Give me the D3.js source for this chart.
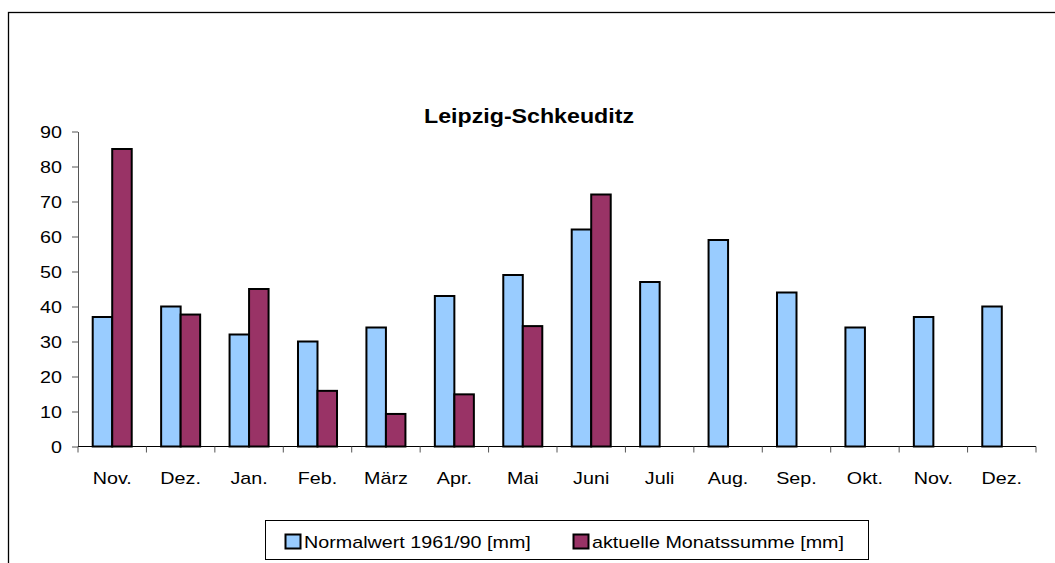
<!DOCTYPE html>
<html>
<head>
<meta charset="utf-8">
<script src="https://cdn.jsdelivr.net/npm/d3@7"></script>
<style>
  body { margin: 0; background: #fff; }
  svg { display: block; font-family: Arial, "Liberation Sans", sans-serif; }
</style>
</head>
<body>
<svg width="1055" height="563"></svg>
<script>
// months shown on the x axis
const months = ["Nov.", "Dez.", "Jan.", "Feb.", "März", "Apr.", "Mai", "Juni", "Juli", "Aug.", "Sep.", "Okt.", "Nov.", "Dez."];
// long-term normal 1961/90 [mm]
const normalwert = [37, 40, 32, 30, 34, 43, 49, 62, 47, 59, 44, 34, 37, 40];
// current monthly totals [mm] (null = not yet available)
const monatssumme = [85, 37.7, 45, 15.9, 9.3, 14.9, 34.4, 72, null, null, null, null, null, null];
const seriesNames = ["Normalwert 1961/90 [mm]", "aktuelle Monatssumme [mm]"];
const seriesColors = ["#99CCFF", "#993366"];
const yTicks = [0, 10, 20, 30, 40, 50, 60, 70, 80, 90];

const width = 1055, height = 563;
const margin = {left: 78, right: 19, top: 131.5, bottom: 116.5};
const stretch = 1.16; // the original chart is a bit wider than tall, text too

const svg = d3.select("svg");

// outer chart frame (runs past the right and bottom edge)
svg.append("rect")
    .attr("x", 8.5).attr("y", 12.5)
    .attr("width", 1100).attr("height", 600)
    .attr("fill", "none")
    .attr("stroke", "#000")
    .attr("stroke-width", 1.3);

const keys = months.map((m, i) => i);
const x = d3.scaleBand()
    .domain(keys)
    .range([margin.left, width - margin.right])
    .padding(0);

const xs = d3.scaleBand()
    .domain([0, 1])
    .range([0, x.bandwidth()])
    .paddingInner(0)
    .paddingOuter(0.754);

const y = d3.scaleLinear()
    .domain([0, 90])
    .range([height - margin.bottom, margin.top]);

function place(sel, px, py) {
    sel.attr("x", 0).attr("y", 0)
        .attr("transform", (d, i) => `translate(${typeof px === "function" ? px(d, i) : px},${typeof py === "function" ? py(d, i) : py}) scale(${stretch},1)`);
}

// title
svg.append("text")
    .attr("text-anchor", "middle")
    .style("font-size", "20px")
    .style("font-weight", "bold")
    .text("Leipzig-Schkeuditz")
    .call(place, 529, 122.5);

// bars
const rows = keys.map(i => [normalwert[i], monatssumme[i]]);
const group = svg.append("g")
    .selectAll("g")
    .data(rows)
    .join("g")
    .attr("transform", (d, i) => `translate(${x(i)},0)`);

group.selectAll("rect")
    .data(d => d.map((v, s) => ({v, s})).filter(e => e.v != null))
    .join("rect")
    .attr("x", d => xs(d.s))
    .attr("width", xs.bandwidth())
    .attr("y", d => y(d.v))
    .attr("height", d => y(0) - y(d.v))
    .attr("fill", d => seriesColors[d.s])
    .attr("stroke", "#000")
    .attr("stroke-width", 2);

// y axis
const yAxis = svg.append("g")
    .attr("transform", `translate(${margin.left},0)`)
    .call(d3.axisLeft(y).tickValues(yTicks).tickSize(6).tickSizeOuter(0));
yAxis.select(".domain").attr("stroke", "#555");
yAxis.selectAll(".tick line").attr("stroke", "#555");
yAxis.selectAll("text")
    .style("font-size", "17px")
    .attr("fill", "#000")
    .attr("dy", "0.36em")
    .call(place, -16, 0);

// x axis: ticks at category boundaries
const xAxisG = svg.append("g")
    .attr("transform", `translate(0,${y(0)})`);
xAxisG.append("line")
    .attr("x1", margin.left).attr("x2", width - margin.right)
    .attr("stroke", "#000").attr("stroke-width", 1.2);
xAxisG.selectAll("line.tk")
    .data(keys.concat([keys.length]))
    .join("line")
    .attr("class", "tk")
    .attr("x1", d => d < keys.length ? x(d) : x(keys.length - 1) + x.bandwidth())
    .attr("x2", d => d < keys.length ? x(d) : x(keys.length - 1) + x.bandwidth())
    .attr("y1", 0).attr("y2", 6)
    .attr("stroke", "#555");
xAxisG.selectAll("text")
    .data(keys)
    .join("text")
    .attr("text-anchor", "middle")
    .style("font-size", "17px")
    .text(d => months[d])
    .call(place, d => x(d) + x.bandwidth() / 2, 37);

// legend
const legend = svg.append("g");
legend.append("rect")
    .attr("x", 265.5).attr("y", 520.5)
    .attr("width", 603).attr("height", 39)
    .attr("fill", "#fff")
    .attr("stroke", "#000")
    .attr("stroke-width", 1);
const legendX = [285, 573];
const li = legend.selectAll("g.item")
    .data(seriesNames)
    .join("g")
    .attr("class", "item")
    .attr("transform", (d, i) => `translate(${legendX[i]},534)`);
li.append("rect")
    .attr("x", 0.5).attr("y", 0.5)
    .attr("width", 15).attr("height", 14)
    .attr("fill", (d, i) => seriesColors[i])
    .attr("stroke", "#000")
    .attr("stroke-width", 2);
li.append("text")
    .style("font-size", "17px")
    .text(d => d)
    .call(place, 19, 13.5);
</script>
</body>
</html>
